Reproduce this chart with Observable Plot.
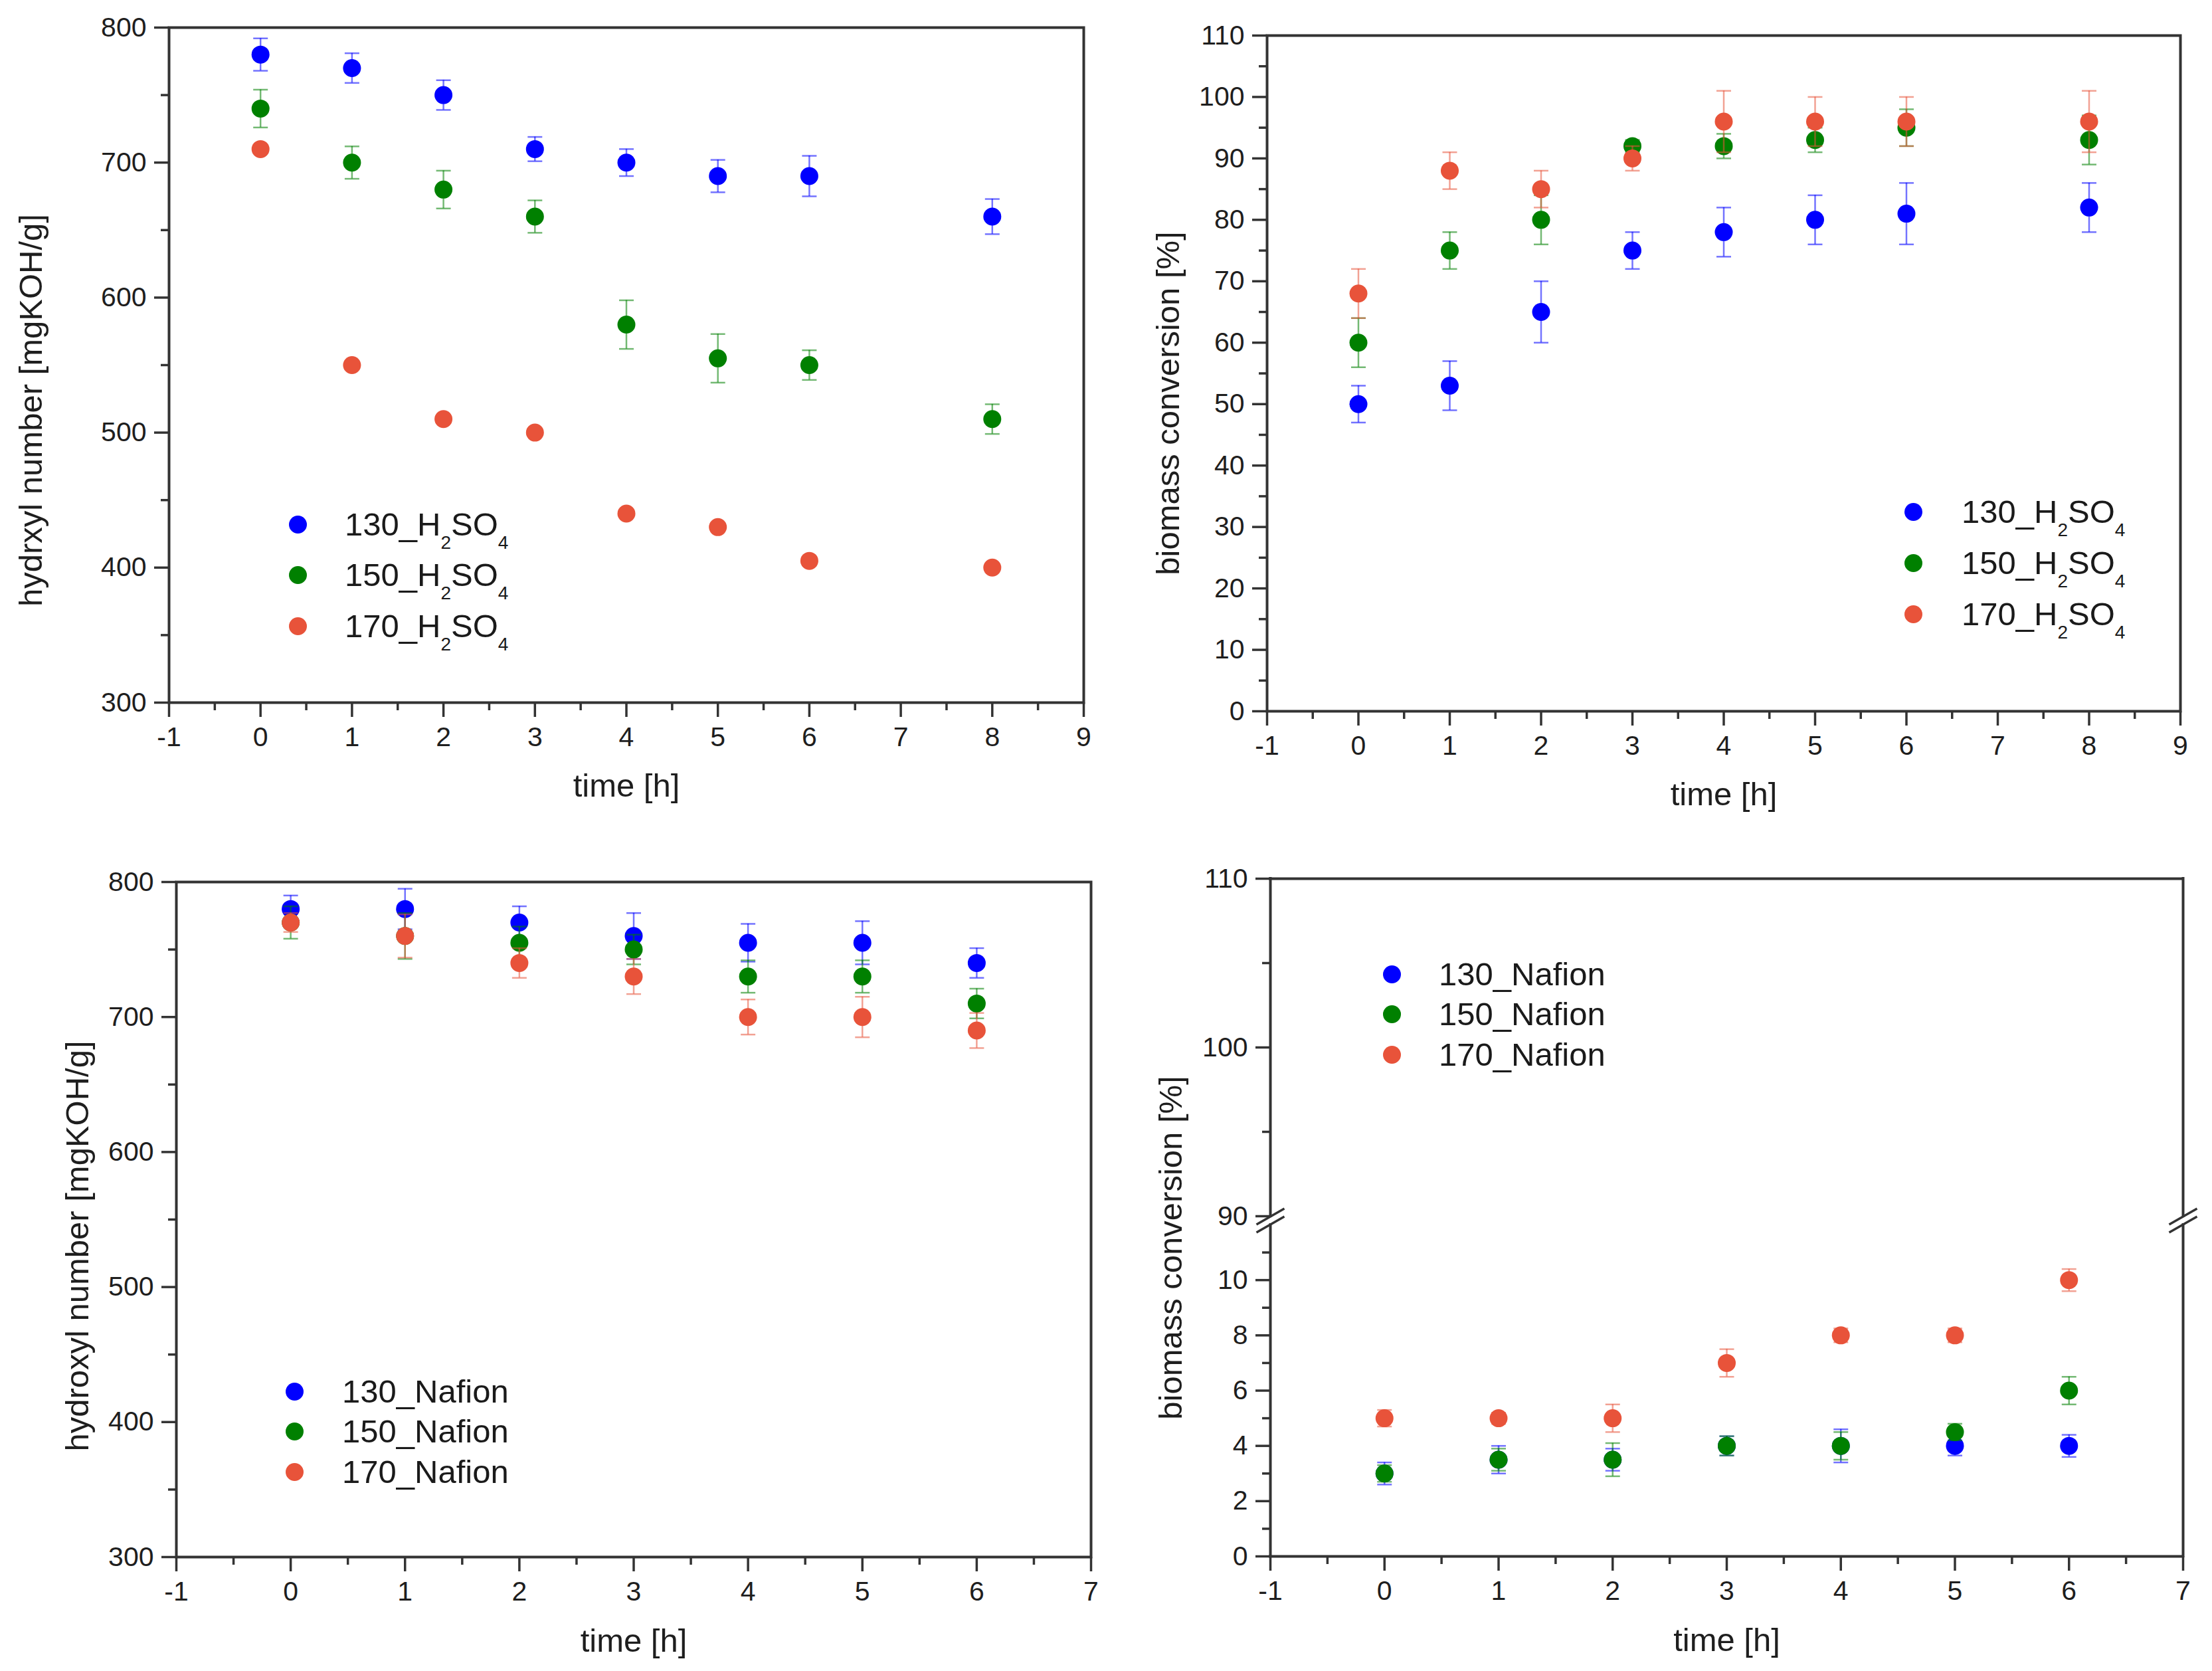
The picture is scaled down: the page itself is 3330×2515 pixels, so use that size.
<!DOCTYPE html>
<html>
<head>
<meta charset="utf-8">
<script src="https://cdn.jsdelivr.net/npm/d3@7"></script>
<script src="https://cdn.jsdelivr.net/npm/@observablehq/plot@0.6"></script>
<style>
html, body { margin: 0; padding: 0; background: #ffffff; }
#page { position: relative; width: 3330px; height: 2515px; overflow: hidden; background: #ffffff;
  font-family: "Liberation Sans", Arial, sans-serif; color: #1a1a1a; }
.panel { position: absolute; }
.legend-dot { position: absolute; width: 27px; height: 27px; border-radius: 50%; }
.legend-text { position: absolute; font-size: 49px; line-height: 49px; white-space: nowrap; color: #1a1a1a; }
.legend-text sub { font-size: 28px; vertical-align: -20px; line-height: 0; }
</style>
</head>
<body>
<div id="page"></div>
<script>
// ---------- data ----------
const seriesNames = ["130", "150", "170"];
const seriesColors = ["#0000ff", "#008000", "#e8533a"];

const timeH2SO4 = [0, 1, 2, 3, 4, 5, 6, 8];
const hydroxylH2SO4_130 = [780, 770, 750, 710, 700, 690, 690, 660];
const hydroxylH2SO4_130_err = [12, 11, 11, 9, 10, 12, 15, 13];
const hydroxylH2SO4_150 = [740, 700, 680, 660, 580, 555, 550, 510];
const hydroxylH2SO4_150_err = [14, 12, 14, 12, 18, 18, 11, 11];
const hydroxylH2SO4_170 = [710, 550, 510, 500, 440, 430, 405, 400];
const hydroxylH2SO4_170_err = [3, 3, 3, 3, 3, 3, 3, 3];

const convH2SO4_130 = [50, 53, 65, 75, 78, 80, 81, 82];
const convH2SO4_130_err = [3, 4, 5, 3, 4, 4, 5, 4];
const convH2SO4_150 = [60, 75, 80, 92, 92, 93, 95, 93];
const convH2SO4_150_err = [4, 3, 4, 1, 2, 2, 3, 4];
const convH2SO4_170 = [68, 88, 85, 90, 96, 96, 96, 96];
const convH2SO4_170_err = [4, 3, 3, 2, 5, 4, 4, 5];

const timeNafion = [0, 1, 2, 3, 4, 5, 6];
const hydroxylNafion_130 = [780, 780, 770, 760, 755, 755, 740];
const hydroxylNafion_130_err = [10, 15, 12, 17, 14, 16, 11];
const hydroxylNafion_150 = [770, 760, 755, 750, 730, 730, 710];
const hydroxylNafion_150_err = [12, 17, 12, 11, 12, 12, 11];
const hydroxylNafion_170 = [770, 760, 740, 730, 700, 700, 690];
const hydroxylNafion_170_err = [7, 16, 11, 13, 13, 15, 13];

const convNafion_130 = [3, 3.5, 3.5, 4, 4, 4, 4];
const convNafion_130_err = [0.4, 0.5, 0.4, 0.35, 0.6, 0.35, 0.4];
const convNafion_150 = [3, 3.5, 3.5, 4, 4, 4.5, 6];
const convNafion_150_err = [0.3, 0.4, 0.6, 0.35, 0.5, 0.3, 0.5];
const convNafion_170 = [5, 5, 5, 7, 8, 8, 10];
const convNafion_170_err = [0.3, 0.2, 0.5, 0.5, 0.25, 0.25, 0.4];

// ---------- ticks / labels ----------
const xTicksH2SO4 = [-1, 0, 1, 2, 3, 4, 5, 6, 7, 8, 9];
const xMinorH2SO4 = [-0.5, 0.5, 1.5, 2.5, 3.5, 4.5, 5.5, 6.5, 7.5, 8.5];
const xTicksNafion = [-1, 0, 1, 2, 3, 4, 5, 6, 7];
const xMinorNafion = [-0.5, 0.5, 1.5, 2.5, 3.5, 4.5, 5.5, 6.5];
const yTicksHydroxyl = [300, 400, 500, 600, 700, 800];
const yMinorHydroxyl = [350, 450, 550, 650, 750];
const yTicksConv = [0, 10, 20, 30, 40, 50, 60, 70, 80, 90, 100, 110];
const yMinorConv = [5, 15, 25, 35, 45, 55, 65, 75, 85, 95, 105];
const yTicksConvUpper = [90, 100, 110];
const yMinorConvUpper = [95, 105];
const yTicksConvLower = [0, 2, 4, 6, 8, 10];
const yMinorConvLower = [1, 3, 5, 7, 9, 11];

const xLabel = "time [h]";
const yLabelA = "hydrxyl number [mgKOH/g]";
const yLabelC = "hydroxyl number [mgKOH/g]";
const yLabelConv = "biomass conversion [%]";
const legendH2SO4 = ["130_H2SO4", "150_H2SO4", "170_H2SO4"];
const legendNafion = ["130_Nafion", "150_Nafion", "170_Nafion"];

// ---------- helpers ----------
const AXIS = "#333333";
const FONT = "Liberation Sans, Arial, Helvetica, sans-serif";
const TITLE_SIZE = 49;
const capSymbol = { draw(ctx, size) { const r = Math.sqrt(size / Math.PI); ctx.moveTo(-r, 0); ctx.lineTo(r, 0); } };
const breakSymbol = { draw(ctx) { ctx.moveTo(-21, 6); ctx.lineTo(21, -18); ctx.moveTo(-21, 18); ctx.lineTo(21, -6); } };

function toRows(xs, vs, es) { return xs.map((t, i) => ({ t, v: vs[i], e: es[i] })); }

function seriesMarks(rows, color, clip) {
  const common = { x: "t", stroke: color, strokeOpacity: 0.55, strokeWidth: 2.5, clip };
  return [
    Plot.ruleX(rows, { ...common, y1: d => d.v - d.e, y2: d => d.v + d.e }),
    Plot.dot(rows, { ...common, y: d => d.v + d.e, symbol: capSymbol, r: 11, fill: "none" }),
    Plot.dot(rows, { ...common, y: d => d.v - d.e, symbol: capSymbol, r: 11, fill: "none" }),
    Plot.dot(rows, { x: "t", y: "v", r: 13.5, fill: color, stroke: "none", clip })
  ];
}

function xAxisMarks(ticks, minor) {
  return [
    Plot.axisX({ ticks, tickSize: 22, tickPadding: 14, stroke: AXIS, strokeWidth: 3.5, fill: "#1e1e1e",
      tickFormat: d => String(d), label: null, fontSize: 41 }),
    Plot.axisX({ ticks: minor, tickSize: 12, stroke: AXIS, strokeWidth: 3.5, fill: "none", label: null })
  ];
}
function yAxisMarks(ticks, minor) {
  return [
    Plot.axisY({ ticks, tickSize: 22, tickPadding: 12, stroke: AXIS, strokeWidth: 3.5, fill: "#1e1e1e",
      tickFormat: d => String(d), label: null, fontSize: 41 }),
    Plot.axisY({ ticks: minor, tickSize: 12, stroke: AXIS, strokeWidth: 3.5, fill: "none", label: null })
  ];
}
function xTitle(dy) {
  return Plot.text([xLabel], { text: d => d, frameAnchor: "bottom", dy, lineAnchor: "middle", fontSize: TITLE_SIZE, fill: "#1e1e1e" });
}
function yTitle(label, dx, dy) {
  return Plot.text([label], { text: d => d, frameAnchor: "left", rotate: -90, dx, dy, lineAnchor: "middle",
    textAnchor: "middle", fontSize: TITLE_SIZE, fill: "#1e1e1e" });
}
const plotStyle = { fontFamily: FONT, fontSize: "41px", color: "#1e1e1e", background: "transparent", overflow: "visible" };

function place(el, left, top) {
  const div = document.createElement("div");
  div.className = "panel";
  div.style.left = left + "px";
  div.style.top = top + "px";
  div.appendChild(el);
  document.getElementById("page").appendChild(div);
}

function legend(labels, dotX, dotY0, step, textX) {
  const page = document.getElementById("page");
  labels.forEach((lab, i) => {
    const y = dotY0 + i * step;
    const dot = document.createElement("div");
    dot.className = "legend-dot";
    dot.style.left = (dotX - 13.5) + "px";
    dot.style.top = (y - 13.5) + "px";
    dot.style.background = seriesColors[i];
    page.appendChild(dot);
    const t = document.createElement("div");
    t.className = "legend-text";
    t.style.left = textX + "px";
    t.style.top = (y - 24.5) + "px";
    t.innerHTML = lab.replace("H2SO4", "H<sub>2</sub>SO<sub>4</sub>");
    page.appendChild(t);
  });
}

// ---------- panel A ----------
const rowsA = [
  toRows(timeH2SO4, hydroxylH2SO4_130, hydroxylH2SO4_130_err),
  toRows(timeH2SO4, hydroxylH2SO4_150, hydroxylH2SO4_150_err),
  toRows(timeH2SO4, hydroxylH2SO4_170, hydroxylH2SO4_170_err)
];
place(Plot.plot({
  width: 1665, height: 1257,
  marginLeft: 254, marginRight: 34, marginTop: 41, marginBottom: 200,
  style: plotStyle,
  x: { domain: [-1, 9] },
  y: { domain: [300, 800] },
  marks: [
    ...xAxisMarks(xTicksH2SO4, xMinorH2SO4),
    ...yAxisMarks(yTicksHydroxyl, yMinorHydroxyl),
    ...rowsA.flatMap((r, i) => seriesMarks(r, seriesColors[i], false)),
    Plot.frame({ stroke: AXIS, strokeWidth: 4 }),
    xTitle(126),
    yTitle(yLabelA, -207, 68)
  ]
}), 0, 0);

// ---------- panel B ----------
const rowsB = [
  toRows(timeH2SO4, convH2SO4_130, convH2SO4_130_err),
  toRows(timeH2SO4, convH2SO4_150, convH2SO4_150_err),
  toRows(timeH2SO4, convH2SO4_170, convH2SO4_170_err)
];
place(Plot.plot({
  width: 1665, height: 1257,
  marginLeft: 242, marginRight: 48, marginTop: 53, marginBottom: 187,
  style: plotStyle,
  x: { domain: [-1, 9] },
  y: { domain: [0, 110] },
  marks: [
    ...xAxisMarks(xTicksH2SO4, xMinorH2SO4),
    ...yAxisMarks(yTicksConv, yMinorConv),
    ...rowsB.flatMap((r, i) => seriesMarks(r, seriesColors[i], false)),
    Plot.frame({ stroke: AXIS, strokeWidth: 4 }),
    xTitle(126),
    yTitle(yLabelConv, -148, 45)
  ]
}), 1665, 0);

// ---------- panel C ----------
const rowsC = [
  toRows(timeNafion, hydroxylNafion_130, hydroxylNafion_130_err),
  toRows(timeNafion, hydroxylNafion_150, hydroxylNafion_150_err),
  toRows(timeNafion, hydroxylNafion_170, hydroxylNafion_170_err)
];
place(Plot.plot({
  width: 1665, height: 1258,
  marginLeft: 265, marginRight: 23, marginTop: 70, marginBottom: 172,
  style: plotStyle,
  x: { domain: [-1, 7] },
  y: { domain: [300, 800] },
  marks: [
    ...xAxisMarks(xTicksNafion, xMinorNafion),
    ...yAxisMarks(yTicksHydroxyl, yMinorHydroxyl),
    ...rowsC.flatMap((r, i) => seriesMarks(r, seriesColors[i], false)),
    Plot.frame({ stroke: AXIS, strokeWidth: 4 }),
    xTitle(127),
    yTitle(yLabelC, -148, 40)
  ]
}), 0, 1257);

// ---------- panel D (broken y axis: upper 90–110, lower 0–12) ----------
const rowsD = [
  toRows(timeNafion, convNafion_130, convNafion_130_err),
  toRows(timeNafion, convNafion_150, convNafion_150_err),
  toRows(timeNafion, convNafion_170, convNafion_170_err)
];
const xDomainD = [-1, 7];
const yDomainUpper = [90, 110];
const yDomainLower = [0, 12];
const frameLine = { stroke: AXIS, strokeWidth: 4, strokeLinecap: "square" };

place(Plot.plot({
  width: 1665, height: 581,
  marginLeft: 247, marginRight: 44, marginTop: 65, marginBottom: 8,
  style: plotStyle,
  x: { domain: xDomainD, axis: null },
  y: { domain: yDomainUpper },
  marks: [
    ...yAxisMarks(yTicksConvUpper, yMinorConvUpper),
    ...rowsD.flatMap((r, i) => seriesMarks(r, seriesColors[i], true)),
    Plot.ruleX(xDomainD, frameLine),
    Plot.ruleY([yDomainUpper[1]], frameLine)
  ]
}), 1665, 1257);

place(Plot.plot({
  width: 1665, height: 677,
  marginLeft: 247, marginRight: 44, marginTop: 5, marginBottom: 173,
  style: plotStyle,
  x: { domain: xDomainD },
  y: { domain: yDomainLower },
  marks: [
    ...xAxisMarks(xTicksNafion, xMinorNafion),
    ...yAxisMarks(yTicksConvLower, yMinorConvLower),
    ...rowsD.flatMap((r, i) => seriesMarks(r, seriesColors[i], true)),
    Plot.ruleX(xDomainD, frameLine),
    Plot.ruleY([yDomainLower[0]], frameLine),
    Plot.dot(xDomainD.map(x => ({ x, y: yDomainLower[1] })), { x: "x", y: "y", symbol: breakSymbol, dy: -6.5,
      fill: "none", stroke: AXIS, strokeWidth: 3.5 }),
    xTitle(127),
    yTitle(yLabelConv, -149, -215)
  ]
}), 1665, 1838);

// ---------- legends ----------
legend(legendH2SO4, 448, 789, 76.5, 519);
legend(legendH2SO4, 2880, 770, 77, 2953);
legend(legendNafion, 443, 2094, 60.5, 515);
legend(legendNafion, 2095, 1466, 60.5, 2166);
</script>
</body>
</html>
